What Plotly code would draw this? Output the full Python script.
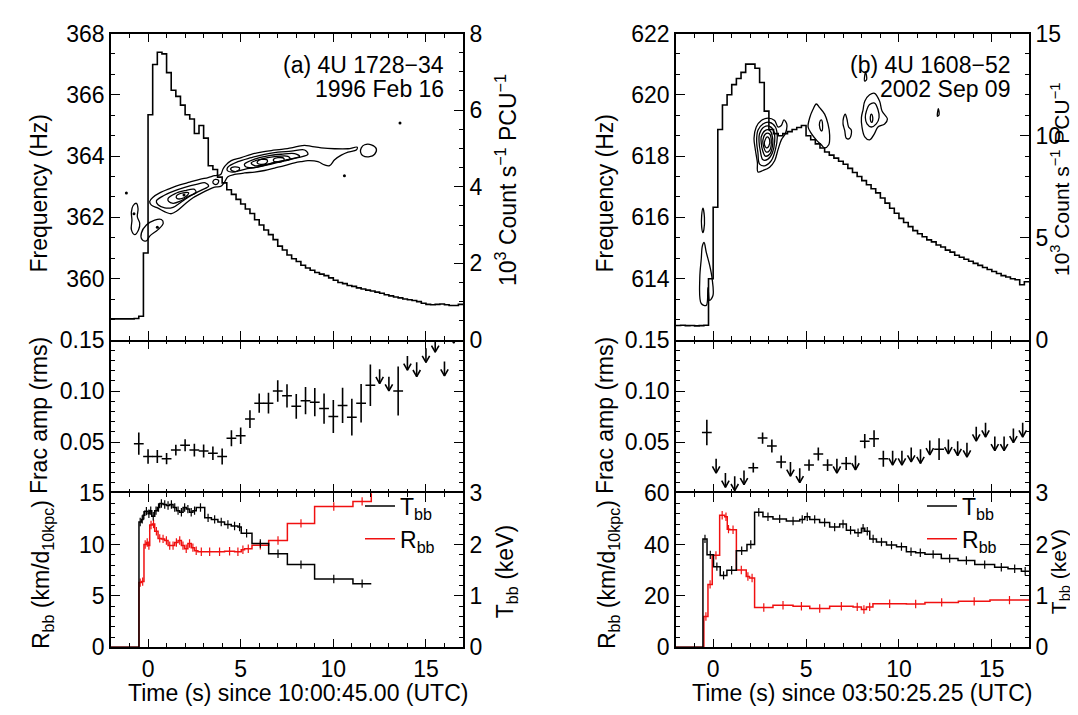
import numpy as np
import plotly.graph_objects as go

FONT = "Liberation Sans, Arial, Helvetica, sans-serif"
FS = 23

# ---------------- light curves (10^3 count/s/PCU), 0.25 s bins from t=-2 ----------------
LC_T0 = -2.0
LC_DT = 0.25
LC_A = [0.55, 0.55, 0.55, 0.55, 0.55, 0.56, 0.62, 2.27,
        5.88, 7.19, 7.51, 7.47, 6.98, 6.52, 6.36, 6.13, 5.88, 5.77, 5.39, 5.60,
        5.27, 4.55, 4.45, 4.25, 4.10, 3.92, 3.80, 3.67, 3.55, 3.42, 3.30, 3.14,
        3.00, 2.87, 2.75, 2.62, 2.45, 2.35, 2.22, 2.12, 2.05, 1.95, 1.88, 1.82,
        1.76, 1.72, 1.68, 1.62, 1.56, 1.50, 1.47, 1.42, 1.40, 1.36, 1.33, 1.30,
        1.28, 1.25, 1.22, 1.18, 1.15, 1.12, 1.10, 1.07, 1.05, 1.03, 1.00, 0.96,
        0.93, 0.92, 0.93, 0.94, 0.92, 0.90, 0.90, 0.93]
LC_B = [0.71, 0.72, 0.70, 0.71, 0.69, 0.70, 0.72, 3.0,
        6.5, 10.3, 11.5, 12.0, 12.5, 12.8, 13.1, 13.5, 13.5, 13.3, 12.6, 11.2,
        10.3, 10.1, 10.0, 10.1, 10.2, 10.3, 10.4, 10.5, 10.0, 9.8, 9.6, 9.4,
        9.2, 9.05, 8.9, 8.75, 8.6, 8.4, 8.2, 8.0, 7.8, 7.6, 7.4, 7.2,
        6.95, 6.7, 6.45, 6.2, 5.95, 5.75, 5.55, 5.35, 5.2, 5.05, 4.9, 4.8,
        4.65, 4.55, 4.4, 4.3, 4.15, 4.05, 3.95, 3.85, 3.75, 3.65, 3.55, 3.45,
        3.35, 3.25, 3.15, 3.08, 3.0, 2.95, 2.7, 2.85]

# ---------------- power contours (time s, frequency Hz) ----------------
CA_OUTER = [(0.09, 362.52), (0.27, 362.66), (0.63, 362.80), (1.17, 362.94), (1.71, 363.06),
            (2.25, 363.15), (2.79, 363.24), (3.24, 363.30), (3.59, 363.36), (3.92, 363.40),
            (4.04, 363.57), (4.17, 363.69), (4.49, 363.85), (5.03, 363.95), (5.57, 364.06),
            (6.11, 364.13), (6.65, 364.18), (7.19, 364.22), (7.73, 364.27), (8.09, 364.32),
            (8.45, 364.35), (8.81, 364.32), (9.35, 364.27), (10.07, 364.24), (10.79, 364.24),
            (11.29, 364.29), (11.24, 364.20), (10.79, 364.13), (10.43, 364.03), (10.07, 363.88),
            (9.80, 363.69), (9.53, 363.71), (9.17, 363.82), (8.63, 363.85), (8.27, 363.82),
            (7.91, 363.78), (7.37, 363.69), (6.83, 363.61), (6.29, 363.53), (5.75, 363.48),
            (5.21, 363.45), (4.67, 363.40), (4.31, 363.33), (4.13, 363.15), (3.92, 363.01),
            (3.59, 362.99), (3.24, 362.90), (2.88, 362.79), (2.43, 362.64), (1.98, 362.43),
            (1.53, 362.20), (1.26, 362.12), (0.99, 362.16), (0.54, 362.30), (0.18, 362.40)]
CA_L2 = [(0.45, 362.54), (0.81, 362.70), (1.35, 362.85), (1.98, 362.98), (2.61, 363.08),
         (3.09, 363.13), (3.27, 363.02), (2.91, 362.90), (2.37, 362.73), (1.83, 362.52),
         (1.35, 362.33), (0.90, 362.31), (0.54, 362.41)]
CA_L3 = [(1.08, 362.62), (1.44, 362.77), (1.98, 362.87), (2.48, 362.92), (2.59, 362.82),
         (2.19, 362.69), (1.71, 362.52), (1.35, 362.46), (1.11, 362.52)]
CA_L4 = [(1.53, 362.70), (1.89, 362.80), (2.19, 362.80), (2.08, 362.70), (1.80, 362.61),
         (1.56, 362.62)]
CA_NECK = [(3.50, 363.17), (3.63, 363.24), (3.81, 363.20), (3.74, 363.09), (3.56, 363.09)]
CA_R2 = [(4.31, 363.64), (4.85, 363.82), (5.57, 363.95), (6.29, 364.06), (7.01, 364.13),
         (7.73, 364.16), (8.45, 364.20), (8.63, 364.06), (8.09, 363.95), (7.37, 363.85),
         (6.65, 363.74), (5.93, 363.64), (5.21, 363.57), (4.58, 363.48), (4.28, 363.53)]
CA_R3 = [(5.21, 363.74), (5.75, 363.90), (6.47, 364.01), (7.19, 364.06), (7.91, 364.08),
         (8.18, 363.99), (7.64, 363.90), (6.92, 363.80), (6.20, 363.69), (5.57, 363.62),
         (5.25, 363.66)]
CA_R4 = [(5.57, 363.78), (6.11, 363.90), (6.83, 363.98), (7.55, 363.99), (7.66, 363.90),
         (7.01, 363.82), (6.29, 363.72), (5.75, 363.69)]
CA_R5A = [(5.90, 363.82), (6.11, 363.89), (6.44, 363.87), (6.38, 363.77), (6.08, 363.73),
          (5.90, 363.77)]
CA_R5B = [(6.78, 363.90), (7.01, 363.95), (7.34, 363.92), (7.28, 363.83), (6.98, 363.80),
          (6.78, 363.84)]
CA_SMALL = [(4.46, 363.59), (4.67, 363.65), (4.94, 363.61), (4.85, 363.52), (4.58, 363.51)]
CA_LOOP = [(11.51, 364.27), (11.69, 364.37), (12.05, 364.37), (12.32, 364.24), (12.23, 364.06),
           (11.96, 363.98), (11.60, 364.01), (11.47, 364.13)]
CA_ISL1 = [(-0.81, 362.38), (-0.63, 362.46), (-0.54, 362.28), (-0.58, 362.02), (-0.45, 361.81),
           (-0.51, 361.60), (-0.72, 361.44), (-0.90, 361.60), (-0.87, 361.91), (-0.90, 362.17)]
CA_ISL2 = [(-0.36, 361.49), (-0.09, 361.75), (0.36, 361.91), (0.72, 361.93), (0.82, 361.81),
           (0.54, 361.60), (0.09, 361.39), (-0.09, 361.23), (-0.33, 361.28)]
CA_DOTS_T = [-1.17, 0.50, -0.76, 10.6, 13.6, 1.94]
CA_DOTS_F = [362.80, 361.68, 362.12, 363.36, 365.08, 362.73]

CB_M1 = [(2.32, 618.95), (2.59, 619.16), (2.95, 619.24), (3.31, 619.16), (3.49, 618.95),
         (3.67, 619.00), (3.81, 619.18), (3.96, 619.05), (3.89, 618.74), (3.67, 618.53),
         (3.49, 618.21), (3.31, 617.85), (3.04, 617.64), (2.68, 617.53), (2.41, 617.48),
         (2.38, 617.79), (2.27, 618.21), (2.20, 618.58)]
CB_M2 = [(2.41, 618.84), (2.68, 619.05), (3.04, 619.10), (3.35, 618.95), (3.45, 618.63),
         (3.35, 618.21), (3.13, 617.85), (2.81, 617.69), (2.50, 617.74), (2.41, 618.11),
         (2.34, 618.48)]
CB_M3 = [(2.50, 618.74), (2.74, 618.95), (3.04, 618.97), (3.28, 618.79), (3.31, 618.48),
         (3.19, 618.11), (2.95, 617.90), (2.68, 617.88), (2.54, 618.16), (2.47, 618.48)]
CB_M4 = [(2.59, 618.63), (2.81, 618.84), (3.04, 618.84), (3.19, 618.63), (3.19, 618.32),
         (3.04, 618.06), (2.81, 618.00), (2.65, 618.21), (2.59, 618.42)]
CB_M5 = [(2.68, 618.53), (2.86, 618.74), (3.04, 618.72), (3.13, 618.48), (3.04, 618.19),
         (2.86, 618.13), (2.72, 618.30)]
CB_M6 = [(2.77, 618.48), (2.92, 618.63), (3.04, 618.53), (2.99, 618.32), (2.86, 618.27),
         (2.76, 618.37)]
CB_S1 = [(5.20, 619.26), (5.37, 619.52), (5.55, 619.70), (5.73, 619.58), (6.00, 619.37),
         (6.18, 619.05), (6.27, 618.69), (6.22, 618.37), (6.00, 618.27), (5.82, 618.37),
         (5.55, 618.53), (5.28, 618.74), (5.11, 618.95)]
CB_S1I = [(5.73, 619.10), (5.82, 619.18), (5.89, 619.00), (5.84, 618.82), (5.75, 618.90)]
CB_S2 = [(7.02, 619.26), (7.11, 619.37), (7.20, 619.21), (7.29, 618.95), (7.44, 618.84),
         (7.35, 618.58), (7.17, 618.58), (7.08, 618.84), (6.99, 619.05)]
CB_S3 = [(8.07, 619.52), (8.16, 619.79), (8.42, 620.00), (8.69, 620.05), (8.96, 619.79),
         (9.09, 619.47), (9.38, 619.21), (9.23, 619.05), (8.87, 618.95), (8.69, 618.74),
         (8.42, 618.53), (8.16, 618.63), (8.01, 618.95), (7.98, 619.26)]
CB_S3B = [(8.25, 619.47), (8.42, 619.68), (8.69, 619.73), (8.87, 619.52), (8.93, 619.26),
          (8.78, 619.05), (8.51, 618.95), (8.28, 619.05), (8.19, 619.26)]
CB_S3I = [(8.46, 619.28), (8.51, 619.37), (8.59, 619.26), (8.55, 619.10), (8.48, 619.14)]
CB_TOP = [(8.15, 620.45), (8.20, 620.75), (8.26, 620.50)]
CB_DOT = [(12.07, 619.30), (12.12, 619.55), (12.16, 619.35)]
CB_E1 = [(-0.55, 616.30), (-0.47, 616.00), (-0.50, 615.60), (-0.55, 615.50), (-0.62, 615.70),
         (-0.62, 616.05)]
CB_E2 = [(-0.49, 615.18), (-0.37, 614.86), (-0.19, 614.44), (-0.06, 614.02), (-0.01, 613.45),
         (-0.19, 613.29), (-0.28, 613.71), (-0.37, 613.13), (-0.64, 613.19), (-0.72, 614.02),
         (-0.64, 614.65), (-0.58, 615.07)]

# ---------------- fractional amplitudes ----------------
FA_A_T = [-0.5, 0.0, 0.5, 1.0, 1.5, 2.0, 2.5, 3.0, 3.5, 4.0, 4.5, 5.0, 5.5, 6.0,
          6.5, 7.0, 7.5, 8.0, 8.5, 9.0, 9.5, 10.0, 10.5, 11.0, 11.5, 12.0, 13.5]
FA_A = [0.0484, 0.0359, 0.0359, 0.0338, 0.0422, 0.0469, 0.0422, 0.0413, 0.0391, 0.0359,
        0.0538, 0.0563, 0.0725, 0.0881, 0.0881, 0.1000, 0.0953, 0.0850, 0.0906, 0.0891,
        0.0828, 0.0750, 0.0859, 0.0744, 0.0881, 0.1056, 0.1000]
FA_A_ERR = [0.0109, 0.0070, 0.0063, 0.0055, 0.0053, 0.0059, 0.0063, 0.0063, 0.0067, 0.0078,
            0.0078, 0.0081, 0.0088, 0.0094, 0.0102, 0.0106, 0.0113, 0.0122, 0.0133, 0.0138,
            0.0148, 0.0161, 0.0172, 0.0180, 0.0188, 0.0203, 0.0239]
UL_A_T = [12.5, 13.0, 14.0, 14.5, 15.0, 15.5, 16.0, 16.5]
UL_A = [0.1213, 0.1141, 0.1344, 0.1281, 0.142, 0.152, 0.1288, 0.161]

FA_B_T = [-0.34, 2.16, 2.66, 3.16, 3.66, 5.16, 5.66, 6.16, 7.16, 8.16, 8.66, 9.16, 12.16]
FA_B = [0.0594, 0.0250, 0.0540, 0.0462, 0.0306, 0.0275, 0.0384, 0.0275, 0.0290, 0.0509,
        0.0534, 0.0337, 0.0431]
FA_B_ERR = [0.0125, 0.0047, 0.0055, 0.0063, 0.0063, 0.0055, 0.0063, 0.0058, 0.0063, 0.0070,
            0.0083, 0.0078, 0.0106]
UL_B_T = [0.16, 0.66, 1.16, 1.66, 4.16, 4.66, 6.66, 7.66, 9.66, 10.16, 10.66, 11.16, 11.66,
          12.66, 13.16, 13.66, 14.16, 14.66, 15.16, 15.66, 16.16, 16.66]
UL_B = [0.0337, 0.0197, 0.0165, 0.0223, 0.0306, 0.0243, 0.0337, 0.0368, 0.0415, 0.0415,
        0.0446, 0.0431, 0.0515, 0.0525, 0.0509, 0.0493, 0.0650, 0.0690, 0.0556, 0.0556,
        0.0634, 0.0690]

# ---------------- blackbody fits (bin start times, values) ----------------
TBB_A_T = [-2.0, -0.49, -0.36, -0.27, -0.18, 0.0, 0.09, 0.2, 0.36, 0.5, 0.63, 0.81, 0.99,
           1.17, 1.35, 1.53, 1.71, 1.89, 2.06, 2.24, 2.42, 2.6, 3.06, 3.42, 3.77, 4.13,
           4.49, 4.85, 5.03, 5.61, 6.51, 7.52, 8.99, 11.06]
TBB_A = [0.0, 2.44, 2.49, 2.57, 2.65, 2.60, 2.66, 2.55, 2.66, 2.72, 2.80, 2.78, 2.76,
         2.78, 2.72, 2.66, 2.63, 2.72, 2.69, 2.63, 2.66, 2.72, 2.52, 2.49, 2.44, 2.39,
         2.36, 2.34, 2.22, 2.02, 1.82, 1.61, 1.33, 1.24]
TBB_A_END = 12.05
RBB_A_T = [-2.0, -0.49, -0.36, -0.22, -0.09, 0.0, 0.09, 0.23, 0.36, 0.54, 0.72, 0.9, 1.08,
           1.26, 1.44, 1.62, 1.8, 1.97, 2.15, 2.33, 2.51, 2.69, 3.06, 3.59, 4.13, 4.67,
           5.03, 5.21, 5.61, 6.51, 7.52, 8.99, 11.06, 12.05]
RBB_A = [0.0, 6.3, 6.4, 10.0, 10.2, 9.9, 11.9, 12.0, 11.3, 10.6, 10.55, 10.4, 9.9,
         9.9, 10.2, 10.4, 9.9, 9.6, 10.1, 9.7, 9.4, 9.3, 9.3, 9.3, 9.35, 9.3,
         9.5, 9.6, 9.94, 10.4, 12.06, 13.7, 14.2, 16.0]
RBB_A_END = 13.0

TBB_B_T = [-2.0, -0.55, -0.33, 0.02, 0.38, 0.74, 1.25, 1.82, 2.23, 2.68, 3.22, 3.94, 4.66,
           4.93, 5.2, 5.73, 6.27, 6.81, 7.17, 7.62, 7.98, 8.16, 8.43, 8.79, 9.33, 9.87,
           10.4, 10.9, 11.4, 12.28, 13.18, 14.08, 15.15, 15.87, 16.59]
TBB_B = [0.0, 2.11, 1.80, 1.57, 1.40, 1.50, 1.88, 2.00, 2.63, 2.54, 2.50, 2.46, 2.49,
         2.54, 2.49, 2.43, 2.34, 2.40, 2.28, 2.23, 2.32, 2.26, 2.11, 2.05, 1.99, 1.96,
         1.86, 1.84, 1.81, 1.73, 1.69, 1.61, 1.56, 1.53, 1.48]
TBB_B_END = 17.0
RBB_B_T = [-2.0, -0.5, -0.28, -0.05, 0.35, 0.62, 0.76, 0.89, 1.25, 1.78, 1.96, 2.23, 3.22,
           4.3, 5.2, 6.27, 7.53, 7.98, 8.25, 8.6, 10.4, 11.4, 13.2, 14.9]
RBB_B = [0.0, 12.0, 24.5, 35.8, 51.4, 50.8, 46.0, 45.75, 30.1, 27.6, 27.0, 15.5, 16.4,
         16.0, 15.1, 16.0, 15.75, 14.75, 15.75, 17.0, 16.9, 17.5, 17.9, 18.4]
RBB_B_END = 17.0

# ---------------- helpers ----------------
def polys_xy(polys):
    xs, ys = [], []
    for p in polys:
        xs += [q[0] for q in p] + [p[0][0], None]
        ys += [q[1] for q in p] + [p[0][1], None]
    return xs, ys


def step_xy(starts, vals, end):
    return list(starts) + [end], list(vals) + [vals[-1]]


def mids(starts, vals, end, cap):
    edges = list(starts[1:]) + [end]
    mx, my = [], []
    for s, e, v in zip(starts, edges, vals):
        if 0 < v < cap:
            mx.append(0.5 * (s + e))
            my.append(v)
    return mx, my


def arrows_xy(ts, vals, length=0.014, head=0.0065, half=0.2):
    xs, ys = [], []
    for t, v in zip(ts, vals):
        tip = v - length
        xs += [t, t, None, t - half, t, t + half, None]
        ys += [v, tip, None, tip + head, tip, tip + head, None]
    return xs, ys


fig = go.Figure()
BLK = "black"
RED = "#f01010"


def add_line(x, y, xa, ya, color=BLK, width=1.5, shape="linear", smooth=None, **kw):
    line = dict(color=color, width=width, shape=shape)
    if smooth is not None:
        line["smoothing"] = smooth
    fig.add_trace(go.Scatter(x=x, y=y, xaxis=xa, yaxis=ya, mode="lines", line=line,
                             hoverinfo="skip", **kw))


def add_panel(col):
    if col == 0:
        xs = ["x", "x2", "x3"]
        ys = ["y", "y2", "y3", "y4", "y5"]
        polys = [CA_OUTER, CA_L2, CA_L3, CA_L4, CA_NECK, CA_R2, CA_R3, CA_R4, CA_R5A, CA_R5B,
                 CA_SMALL, CA_LOOP, CA_ISL1, CA_ISL2]
        dots = (CA_DOTS_T, CA_DOTS_F)
        lc = LC_A
        fa = (FA_A_T, FA_A, FA_A_ERR)
        ul = (UL_A_T, UL_A)
        tb = (TBB_A_T, TBB_A, TBB_A_END)
        rb = (RBB_A_T, RBB_A, RBB_A_END)
        rcap = 15.0
        leg = "legend"
    else:
        xs = ["x4", "x5", "x6"]
        ys = ["y6", "y7", "y8", "y9", "y10"]
        polys = [CB_M1, CB_M2, CB_M3, CB_M4, CB_M5, CB_M6, CB_S1, CB_S1I, CB_S2, CB_S3,
                 CB_S3B, CB_S3I, CB_TOP, CB_DOT, CB_E1, CB_E2]
        dots = None
        lc = LC_B
        fa = (FA_B_T, FA_B, FA_B_ERR)
        ul = (UL_B_T, UL_B)
        tb = (TBB_B_T, TBB_B, TBB_B_END)
        rb = (RBB_B_T, RBB_B, RBB_B_END)
        rcap = 60.0
        leg = "legend2"

    # top: contours + light curve
    cx, cy = polys_xy(polys)
    add_line(cx, cy, xs[0], ys[0], width=1.3, shape="spline", smooth=1.0, showlegend=False)
    if dots:
        fig.add_trace(go.Scatter(x=dots[0], y=dots[1], xaxis=xs[0], yaxis=ys[0], mode="markers",
                                 marker=dict(color=BLK, size=3), showlegend=False, hoverinfo="skip"))
    starts = [LC_T0 + LC_DT * i for i in range(len(lc))]
    sx, sy = step_xy(starts, lc, starts[-1] + LC_DT)
    add_line(sx, sy, xs[0], ys[1], width=1.6, shape="hv", showlegend=False)

    # middle: fractional amplitude
    fig.add_trace(go.Scatter(x=fa[0], y=fa[1], xaxis=xs[1], yaxis=ys[2], mode="markers",
                             marker=dict(symbol="line-ew", size=7, line=dict(color=BLK, width=1.5)),
                             error_y=dict(type="data", array=fa[2], color=BLK, thickness=1.6, width=0),
                             showlegend=False, hoverinfo="skip"))
    ax_, ay_ = arrows_xy(ul[0], ul[1])
    add_line(ax_, ay_, xs[1], ys[2], width=1.6, showlegend=False)

    # bottom: T_bb (right axis) and R_bb (left axis)
    tx, ty = step_xy(*tb)
    add_line(tx, ty, xs[2], ys[4], color=BLK, width=1.5, shape="hv",
             name="T<sub>bb</sub>", showlegend=True, legend=leg)
    rx, ry = step_xy(*rb)
    add_line(rx, ry, xs[2], ys[3], color=RED, width=1.5, shape="hv",
             name="R<sub>bb</sub>", showlegend=True, legend=leg)
    mx, my = mids(tb[0], tb[1], tb[2], 3.0)
    fig.add_trace(go.Scatter(x=mx, y=my, xaxis=xs[2], yaxis=ys[4], mode="markers",
                             marker=dict(symbol="line-ns", size=6, line=dict(color=BLK, width=1.2)),
                             showlegend=False, hoverinfo="skip"))
    mx, my = mids(rb[0], rb[1], rb[2], rcap)
    fig.add_trace(go.Scatter(x=mx, y=my, xaxis=xs[2], yaxis=ys[3], mode="markers",
                             marker=dict(symbol="line-ns", size=6, line=dict(color=RED, width=1.2)),
                             showlegend=False, hoverinfo="skip"))


add_panel(0)
add_panel(1)

# ---------------- axes ----------------
TICKF = dict(family=FONT, size=FS, color="black")
XDOM = [[103 / 1078, 455 / 1078], [668 / 1078, 1021 / 1078]]
YDOM = [[1 - 331 / 715, 1 - 13 / 715], [1 - 490 / 715, 1 - 331 / 715], [1 - 650 / 715, 1 - 490 / 715]]


def xax(dom, anchor, labels, line=True):
    return dict(domain=dom, anchor=anchor, range=[-2, 17], showline=line, linewidth=1.6,
                linecolor="black", mirror="ticks", ticks="inside", ticklen=9, tickwidth=1.4,
                tickcolor="black", tickmode="linear", tick0=0, dtick=5,
                minor=dict(ticks="inside", ticklen=4.5, tickwidth=1.4, tickcolor="black",
                           tickmode="linear", tick0=0, dtick=1),
                showgrid=False, zeroline=False, showticklabels=labels, tickfont=TICKF)


def yax(dom, anchor, rng, tvals, ttext, mtick0, mdtick, side="left", overlay=None, mirror=False):
    d = dict(domain=dom, anchor=anchor, range=rng, showline=True, linewidth=1.6,
             linecolor="black", ticks="inside", ticklen=9, tickwidth=1.4, tickcolor="black",
             tickmode="array", tickvals=tvals, ticktext=ttext,
             minor=dict(ticks="inside", ticklen=4.5, tickwidth=1.4, tickcolor="black",
                        tickmode="linear", tick0=mtick0, dtick=mdtick),
             showgrid=False, zeroline=False, tickfont=TICKF, side=side)
    if overlay:
        d["overlaying"] = overlay
    if mirror:
        d["mirror"] = "ticks"
    return d


FREQ_A = [360, 362, 364, 366, 368]
FREQ_B = [614, 616, 618, 620, 622]
CNT_A = [0, 2, 4, 6, 8]
CNT_B = [0, 5, 10, 15]
AMP = [0.05, 0.10, 0.15]
RBB_TA = [0, 5, 10, 15]
RBB_TB = [0, 20, 40, 60]
TBB_TV = [0, 1, 2, 3]

LEGF = dict(family=FONT, size=FS, color="black")
layout = dict(
    width=1078, height=715, margin=dict(l=0, r=0, t=0, b=0),
    paper_bgcolor="white", plot_bgcolor="white",
    xaxis=xax(XDOM[0], "y", False),
    xaxis2=xax(XDOM[0], "y3", False, line=False),
    xaxis3=xax(XDOM[0], "y4", True),
    xaxis4=xax(XDOM[1], "y6", False),
    xaxis5=xax(XDOM[1], "y8", False, line=False),
    xaxis6=xax(XDOM[1], "y9", True),
    yaxis=yax(YDOM[0], "x", [358, 368], FREQ_A, [str(v) for v in FREQ_A], 358, 2 / 3),
    yaxis2=yax(YDOM[0], "x", [0, 8], CNT_A, [str(v) for v in CNT_A], 0, 0.5, side="right", overlay="y"),
    yaxis3=yax(YDOM[1], "x2", [0, 0.15], AMP, ["0.05", "0.10", "0.15"], 0, 0.01, mirror=True),
    yaxis4=yax(YDOM[2], "x3", [0, 15], RBB_TA, [str(v) for v in RBB_TA], 0, 1),
    yaxis5=yax(YDOM[2], "x3", [0, 3], TBB_TV, [str(v) for v in TBB_TV], 0, 0.2, side="right", overlay="y4"),
    yaxis6=yax(YDOM[0], "x4", [612, 622], FREQ_B, [str(v) for v in FREQ_B], 612, 2 / 3),
    yaxis7=yax(YDOM[0], "x4", [0, 15], CNT_B, [str(v) for v in CNT_B], 0, 1, side="right", overlay="y6"),
    yaxis8=yax(YDOM[1], "x5", [0, 0.15], AMP, ["0.05", "0.10", "0.15"], 0, 0.01, mirror=True),
    yaxis9=yax(YDOM[2], "x6", [0, 60], RBB_TB, [str(v) for v in RBB_TB], 0, 4),
    yaxis10=yax(YDOM[2], "x6", [0, 3], TBB_TV, [str(v) for v in TBB_TV], 0, 0.2, side="right", overlay="y9"),
    legend=dict(x=352 / 1078, y=1 - 481 / 715, xanchor="left", yanchor="top",
                bgcolor="rgba(0,0,0,0)", font=LEGF, tracegroupgap=0),
    legend2=dict(x=914 / 1078, y=1 - 481 / 715, xanchor="left", yanchor="top",
                 bgcolor="rgba(0,0,0,0)", font=LEGF, tracegroupgap=0),
    showlegend=True,
)
fig.update_layout(**layout)

# ---------------- text ----------------
def ann(text, x, y, angle=0, xanchor="center", size=FS):
    fig.add_annotation(text=text, x=x, y=y, xref="paper", yref="paper", showarrow=False,
                       textangle=angle, xanchor=xanchor, yanchor="middle",
                       font=dict(family=FONT, size=size, color="black"))


for xl, xr, rsize in [(31, 498, FS), (597, 1052, 21)]:
    ann("Frequency (Hz)", xl / 1078, 1 - 179 / 715, -90)
    ann("Frac amp (rms)", xl / 1078, 1 - 410 / 715, -90)
    ann("R<sub>bb</sub> (km/d<sub>10kpc</sub>)", (xl + 3) / 1078, 1 - 575 / 715, -90)
    ann("10<sup>3</sup> Count s<sup>\u22121</sup> PCU<sup>\u22121</sup>", xr / 1078, 1 - 165 / 715, -90,
        size=rsize)
    ann("T<sub>bb</sub> (keV)", xr / 1078, 1 - 572 / 715, -90, size=rsize)

ann("Time (s) since 10:00:45.00 (UTC)", 290 / 1078, 1 - 697 / 715)
ann("Time (s) since 03:50:25.25 (UTC)", 854 / 1078, 1 - 697 / 715)

ann("(a) 4U 1728\u221234", 438 / 1078, 1 - 46 / 715, xanchor="right")
ann("1996 Feb 16", 438 / 1078, 1 - 71 / 715, xanchor="right")
ann("(b) 4U 1608\u221252", 1004 / 1078, 1 - 46 / 715, xanchor="right")
ann("2002 Sep 09", 1004 / 1078, 1 - 71 / 715, xanchor="right")

fig.write_html("out.html")
